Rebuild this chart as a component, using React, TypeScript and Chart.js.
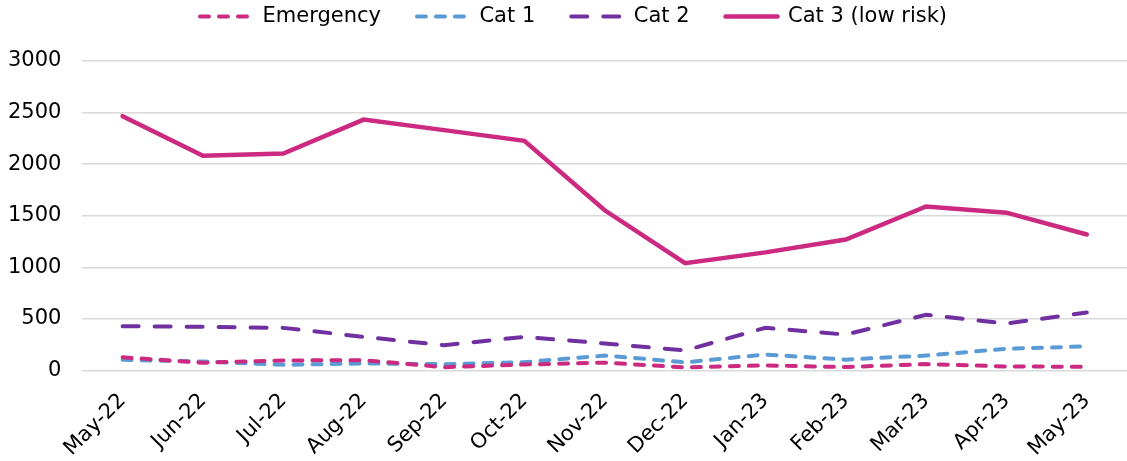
import React, { useEffect, useRef } from "react";
import { Chart, registerables } from "chart.js";

Chart.register(...registerables);

const categories = ["May-22", "Jun-22", "Jul-22", "Aug-22", "Sep-22", "Oct-22", "Nov-22", "Dec-22", "Jan-23", "Feb-23", "Mar-23", "Apr-23", "May-23"];
const emergency = [128, 75, 97, 100, 32, 58, 76, 30, 49, 33, 62, 39, 36];
const cat1 = [103, 87, 55, 68, 61, 81, 145, 79, 155, 105, 145, 210, 234];
const cat2 = [429, 423, 413, 326, 245, 326, 262, 194, 414, 348, 540, 455, 562];
const cat3 = [2465, 2082, 2103, 2432, 2330, 2226, 1553, 1040, 1145, 1270, 1590, 1530, 1318];
const yTicks = [0, 500, 1000, 1500, 2000, 2500, 3000];

const PINK = "#CC2A80";
const BLUE = "#5B9BD5";
const PURPLE = "#7030A0";
const FONT = "'DejaVu Sans', Verdana, sans-serif";

const legendSpacer = {
  id: "legendSpacer",
  beforeLayout(chart: any) {
    const lg = chart.legend;
    if (lg && !lg._spaced) {
      const orig = lg.fit;
      lg.fit = function () {
        orig.call(this);
        this.height += 24;
      };
      lg._spaced = true;
    }
  },
  afterLayout(chart: any) {
    const lg = chart.legend;
    if (lg) {
      lg.left += 6;
      lg.right += 6;
    }
  },
};

export default function App() {
  const ref = useRef<HTMLCanvasElement | null>(null);
  useEffect(() => {
    document.body.style.margin = "0";
    const canvas = ref.current;
    if (!canvas) return;
    const chart = new Chart(canvas, {
      type: "line",
      data: {
        labels: categories,
        datasets: [
          { label: "Emergency", data: emergency, borderColor: PINK, backgroundColor: PINK, borderWidth: 4, borderDash: [9, 10], borderCapStyle: "round", pointRadius: 0, tension: 0 },
          { label: "Cat 1", data: cat1, borderColor: BLUE, backgroundColor: BLUE, borderWidth: 4, borderDash: [9, 10], borderCapStyle: "round", pointRadius: 0, tension: 0 },
          { label: "Cat 2", data: cat2, borderColor: PURPLE, backgroundColor: PURPLE, borderWidth: 4, borderDash: [16, 16], borderCapStyle: "round", pointRadius: 0, tension: 0 },
          { label: "Cat 3 (low risk)", data: cat3, borderColor: PINK, backgroundColor: PINK, borderWidth: 4.5, borderCapStyle: "round", pointRadius: 0, tension: 0 },
        ],
      },
      options: {
        responsive: false,
        animation: false,
        devicePixelRatio: 1,
        layout: { padding: { left: 8, top: -30, bottom: -10, right: 0 } },
        plugins: {
          legend: {
            position: "top",
            labels: {
              usePointStyle: true,
              pointStyle: "line",
              pointStyleWidth: 52,
              padding: 36,
              color: "#000",
              font: { family: FONT, size: 21 },
              generateLabels: (ch: any) =>
                ch.data.datasets.map((ds: any, i: number) => ({
                  text: ds.label,
                  datasetIndex: i,
                  fillStyle: ds.borderColor,
                  strokeStyle: ds.borderColor,
                  lineWidth: ds.borderWidth,
                  lineDash: ds.borderDash || [],
                  lineCap: "round",
                  pointStyle: "line",
                  hidden: false,
                  fontColor: "#000",
                })),
            },
          },
          tooltip: { enabled: false },
        },
        scales: {
          x: {
            offset: true,
            grid: { display: false },
            border: { display: false },
            afterFit: (scale: any) => {
              scale.paddingLeft = 0;
              scale.paddingRight = 0;
            },
            ticks: {
              color: "#000",
              font: { family: FONT, size: 21 },
              maxRotation: 45,
              minRotation: 45,
              padding: 10,
              autoSkip: false,
            },
          },
          y: {
            min: 0,
            max: 3000,
            afterBuildTicks: (axis: any) => {
              axis.ticks = yTicks.map((v) => ({ value: v }));
            },
            afterFit: (scale: any) => {
              scale.width = scale.width - 21;
            },
            grid: { color: "#d9d9d9", lineWidth: 1.5, drawTicks: false },
            border: { display: false },
            ticks: {
              color: "#000",
              font: { family: FONT, size: 21 },
              padding: 21,
              callback: (v: any) => String(v),
            },
          },
        },
      },
      plugins: [legendSpacer],
    });
    return () => chart.destroy();
  }, []);
  return (
    <div style={{ width: 1127, height: 461 }}>
      <canvas ref={ref} width={1127} height={461} style={{ display: "block" }} />
    </div>
  );
}
